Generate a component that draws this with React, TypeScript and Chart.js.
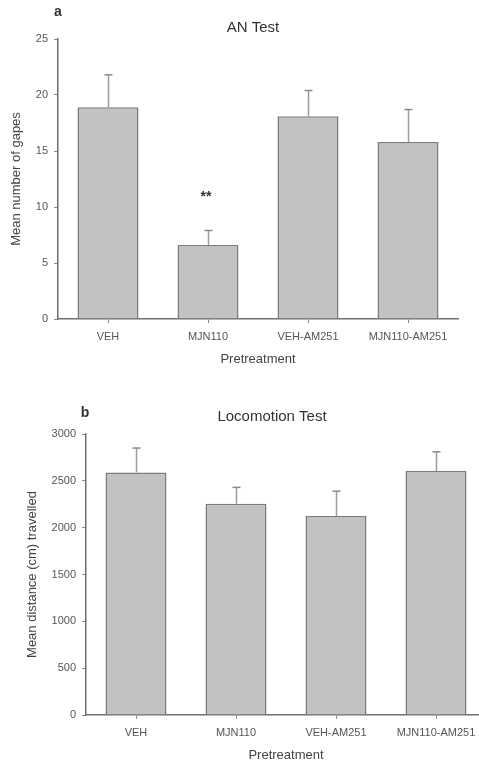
import React, { useEffect, useRef } from 'react';
import { Chart, registerables } from 'chart.js';

Chart.register(...registerables);

const categories = ['VEH', 'MJN110', 'VEH-AM251', 'MJN110-AM251'];

const anMeans = [18.9, 6.6, 18.1, 15.8];
const anSem = [2.9, 1.3, 2.3, 2.9];
const anSig = ['', '**', '', ''];

const locoMeans = [2590, 2255, 2125, 2605];
const locoSem = [260, 175, 265, 205];
const locoSig = ['', '', '', ''];

const FONT = '"Liberation Sans", Arial, Helvetica, sans-serif';
Chart.defaults.font.family = FONT;

const errorBarPlugin = {
  id: 'errorBars',
  afterDatasetsDraw(chart: any, _args: any, opts: any) {
    const sem: number[] = opts.sem || [];
    const sig: string[] = opts.sig || [];
    const meta = chart.getDatasetMeta(0);
    const ys = chart.scales.y;
    const ctx = chart.ctx;
    ctx.save();
    meta.data.forEach((bar: any, i: number) => {
      const v = chart.data.datasets[0].data[i] as number;
      const yTop = ys.getPixelForValue(v + sem[i]);
      const x = Math.round(bar.x) + 0.5;
      ctx.strokeStyle = '#9c9c9c';
      ctx.lineWidth = 1.5;
      ctx.beginPath();
      ctx.moveTo(x, bar.y);
      ctx.lineTo(x, yTop);
      ctx.stroke();
      ctx.strokeStyle = '#8a8a8a';
      ctx.lineWidth = 1.5;
      ctx.beginPath();
      ctx.moveTo(x - 4, yTop);
      ctx.lineTo(x + 4, yTop);
      ctx.stroke();
      if (sig[i]) {
        ctx.fillStyle = '#333';
        ctx.font = 'bold 14px ' + FONT;
        ctx.textAlign = 'center';
        ctx.textBaseline = 'middle';
        ctx.fillText(sig[i], bar.x - 2, yTop - 33);
      }
    });
    ctx.restore();
  },
};

const textPlugin = {
  id: 'panelText',
  afterDraw(chart: any, _args: any, opts: any) {
    const items = opts.items || [];
    const ctx = chart.ctx;
    ctx.save();
    items.forEach((it: any) => {
      ctx.fillStyle = it.color;
      ctx.font = it.font;
      ctx.textAlign = 'center';
      ctx.textBaseline = 'middle';
      ctx.fillText(it.text, it.x, it.y);
    });
    ctx.restore();
  },
};

function makeConfig(p: any): any {
  return {
    type: 'bar',
    data: {
      labels: categories,
      datasets: [
        {
          data: p.means,
          backgroundColor: '#c2c2c2',
          borderColor: '#7c7c7c',
          borderWidth: 1.5,
          barPercentage: 0.61,
          categoryPercentage: 1,
        },
      ],
    },
    plugins: [errorBarPlugin, textPlugin],
    options: {
      responsive: false,
      animation: false,
      layout: { padding: { left: 0, right: p.padRight, top: p.padTop, bottom: p.padBottom } },
      plugins: {
        legend: { display: false },
        tooltip: { enabled: false },
        title: { display: false },
        errorBars: { sem: p.sem, sig: p.sig },
        panelText: { items: p.texts },
      },
      scales: {
        x: {
          type: 'category',
          offset: true,
          grid: {
            display: true,
            drawOnChartArea: false,
            drawTicks: true,
            tickLength: 4,
            tickWidth: 1,
            tickColor: '#8a8a8a',
            offset: false,
          },
          border: { display: true, color: '#6e6e6e', width: 1.5 },
          ticks: { font: { size: 11 }, color: '#555', padding: 7, maxRotation: 0, autoSkip: false },
          title: {
            display: true,
            text: 'Pretreatment',
            font: { size: 13 },
            color: '#444',
            padding: { top: 2, bottom: p.xTitlePad },
          },
          afterFit: (s: any) => {
            s.height = p.xHeight;
          },
        },
        y: {
          min: 0,
          max: p.max,
          ticks: {
            stepSize: p.step,
            font: { size: 11 },
            color: '#555',
            padding: 6,
            callback: (v: any) => String(v),
          },
          grid: {
            display: true,
            drawOnChartArea: false,
            drawTicks: true,
            tickLength: 4,
            tickWidth: 1,
            tickColor: '#8a8a8a',
          },
          border: { display: true, color: '#6e6e6e', width: 1.5 },
          title: {
            display: true,
            text: p.yTitle,
            font: { size: 13 },
            color: '#444',
            padding: { top: p.yTitlePad, bottom: 0 },
          },
          afterFit: (s: any) => {
            s.width = p.yWidth;
          },
        },
      },
    },
  };
}

export default function App() {
  const ref1 = useRef<HTMLCanvasElement>(null);
  const ref2 = useRef<HTMLCanvasElement>(null);

  useEffect(() => {
    document.body.style.margin = '0';
    const c1 = new Chart(
      ref1.current!,
      makeConfig({
        means: anMeans,
        sem: anSem,
        sig: anSig,
        max: 25,
        step: 5,
        yTitle: 'Mean number of gapes',
        yWidth: 58,
        yTitlePad: 9,
        padRight: 21,
        padTop: 39,
        padBottom: 3,
        xHeight: 50,
        xTitlePad: 2.2,
        texts: [
          { text: 'AN Test', x: 253, y: 28, font: '15px ' + FONT, color: '#333' },
          { text: 'a', x: 58, y: 12, font: 'bold 14px ' + FONT, color: '#333' },
        ],
      })
    );
    const c2 = new Chart(
      ref2.current!,
      makeConfig({
        means: locoMeans,
        sem: locoSem,
        sig: locoSig,
        max: 3000,
        step: 500,
        yTitle: 'Mean distance (cm) travelled',
        yWidth: 86,
        yTitlePad: 25,
        padRight: 4,
        padTop: 62,
        padBottom: 0,
        xHeight: 49,
        xTitlePad: 1.2,
        texts: [
          { text: 'Locomotion Test', x: 272, y: 45, font: '15px ' + FONT, color: '#333' },
          { text: 'b', x: 85, y: 41, font: 'bold 14px ' + FONT, color: '#333' },
        ],
      })
    );
    return () => {
      c1.destroy();
      c2.destroy();
    };
  }, []);

  return (
    <div style={{ position: 'relative', width: 479, height: 764, overflow: 'hidden', background: '#fff' }}>
      <div style={{ position: 'absolute', left: 0, top: 0, width: 479, height: 372 }}>
        <canvas ref={ref1} width={479} height={372} style={{ width: 479, height: 372, display: 'block' }} />
      </div>
      <div style={{ position: 'absolute', left: 0, top: 372, width: 490, height: 392 }}>
        <canvas ref={ref2} width={490} height={392} style={{ width: 490, height: 392, display: 'block' }} />
      </div>
    </div>
  );
}
